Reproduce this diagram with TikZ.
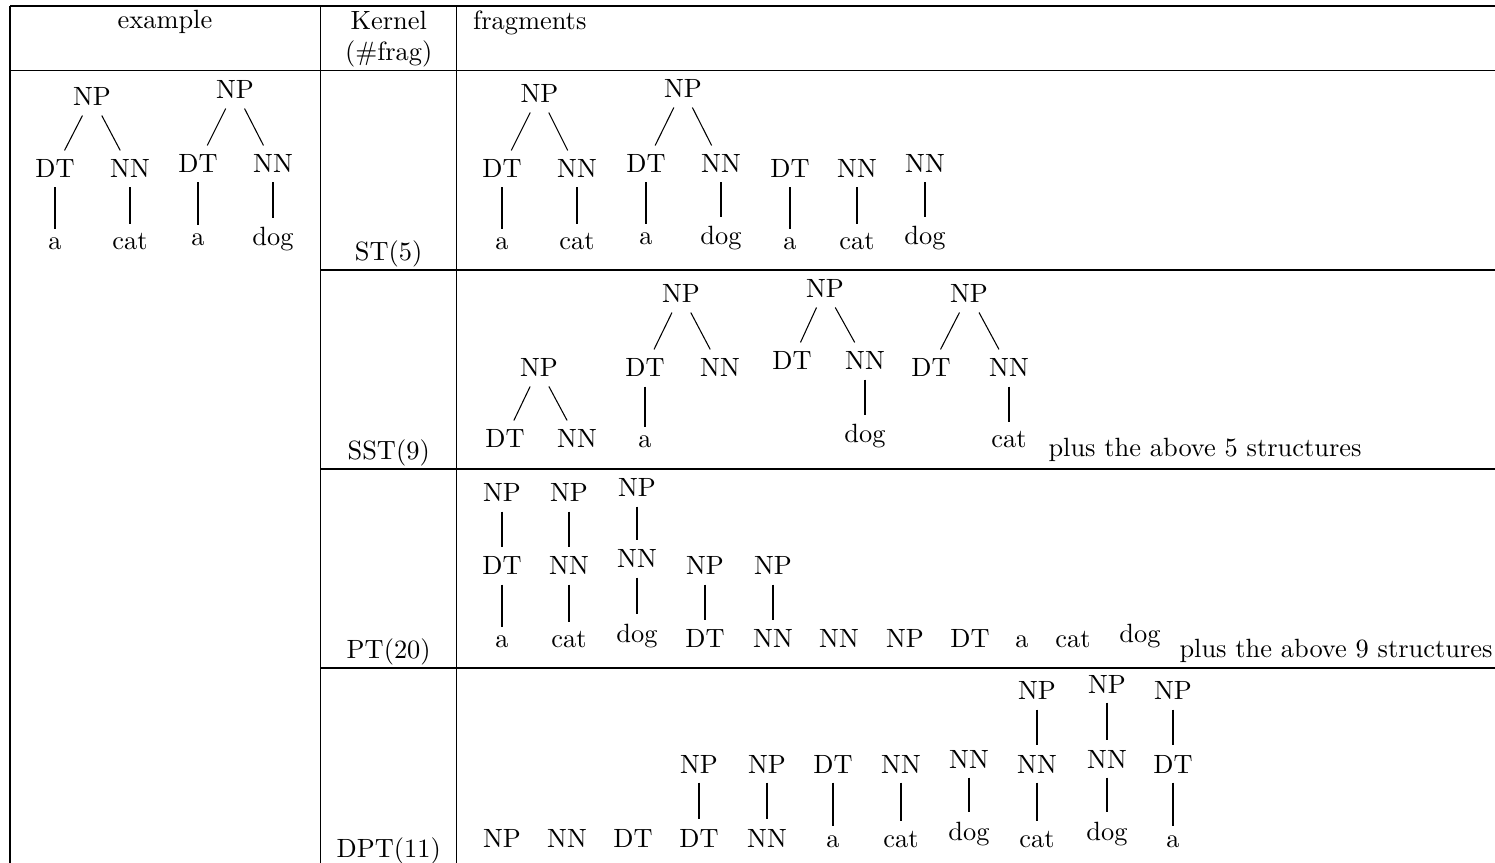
\documentclass[tikz,border=0pt]{standalone}
\begin{document}
\begin{tikzpicture}[x=0.3788pt,y=-0.3788pt,
  t/.style={inner xsep=0.5pt,inner ysep=3.4pt,anchor=base},
  lab/.style={inner sep=0pt,anchor=base},
  br/.style={line width=0.4pt},
  rule/.style={line width=0.45pt}]
\useasboundingbox (0,0) rectangle (1495,863);
% table rules
\draw[rule] (10,6) -- (1495,6);
\draw[rule] (10,70.5) -- (1495,70.5);
\draw[rule] (320.7,270) -- (1495,270);
\draw[rule] (320.7,469) -- (1495,469);
\draw[rule] (320.7,668) -- (1495,668);
\draw[rule] (10,6) -- (10,863);
\draw[rule] (320.7,6) -- (320.7,863);
\draw[rule] (456.7,6) -- (456.7,863);
% headers
\node[lab] (hex) at (165,29) {example};
\node[lab] (hk1) at (388.7,30) {Kernel};
\node[lab] (hk2) at (388.7,61) {(\#frag)};
\node[lab,anchor=base west] (hfr) at (472.7,30) {fragments};
% row labels
\node[lab] (rst) at (388.7,260.8) {ST(5)};
\node[lab] (rsst) at (388.7,459.8) {SST(9)};
\node[lab] (rpt) at (388.7,658.8) {PT(20)};
\node[lab] (rdpt) at (388.7,857) {DPT(11)};
% example trees
\node[t] (e1np) at (92,106) {NP};
\node[t] (e1dt) at (55,178) {DT};
\node[t] (e1nn) at (130,178) {NN};
\node[t] (e1a) at (55,250) {a};
\node[t] (e1cat) at (130,250) {cat};
\draw[br] (e1np) -- (e1dt); \draw[br] (e1np) -- (e1nn);
\draw[br] (e1dt) -- (e1a); \draw[br] (e1nn) -- (e1cat);
\node[t] (e2np) at (235,99) {NP};
\node[t] (e2dt) at (198,173) {DT};
\node[t] (e2nn) at (273,173) {NN};
\node[t] (e2a) at (198,246) {a};
\node[t] (e2dog) at (273,246) {dog};
\draw[br] (e2np) -- (e2dt); \draw[br] (e2np) -- (e2nn);
\draw[br] (e2dt) -- (e2a); \draw[br] (e2nn) -- (e2dog);
% ST fragments
\node[t] (s1np) at (539.5,103) {NP};
\node[t] (s1dt) at (502,178) {DT};
\node[t] (s1nn) at (577,178) {NN};
\node[t] (s1a) at (502,250) {a};
\node[t] (s1cat) at (577,250) {cat};
\draw[br] (s1np) -- (s1dt); \draw[br] (s1np) -- (s1nn);
\draw[br] (s1dt) -- (s1a); \draw[br] (s1nn) -- (s1cat);
\node[t] (s2np) at (683,98) {NP};
\node[t] (s2dt) at (646,173) {DT};
\node[t] (s2nn) at (721,173) {NN};
\node[t] (s2a) at (646,245) {a};
\node[t] (s2dog) at (721,245) {dog};
\draw[br] (s2np) -- (s2dt); \draw[br] (s2np) -- (s2nn);
\draw[br] (s2dt) -- (s2a); \draw[br] (s2nn) -- (s2dog);
\node[t] (s3dt) at (790,178) {DT};
\node[t] (s3a) at (790,250) {a};
\draw[br] (s3dt) -- (s3a);
\node[t] (s4nn) at (857,178) {NN};
\node[t] (s4cat) at (857,250) {cat};
\draw[br] (s4nn) -- (s4cat);
\node[t] (s5nn) at (925,173) {NN};
\node[t] (s5dog) at (925,245) {dog};
\draw[br] (s5nn) -- (s5dog);
% SST fragments
\node[t] (t1np) at (539,377) {NP};
\node[t] (t1dt) at (505,448) {DT};
\node[t] (t1nn) at (577,448) {NN};
\draw[br] (t1np) -- (t1dt); \draw[br] (t1np) -- (t1nn);
\node[t] (t2np) at (681,303) {NP};
\node[t] (t2dt) at (645,377) {DT};
\node[t] (t2nn) at (720,377) {NN};
\node[t] (t2a) at (645,448) {a};
\draw[br] (t2np) -- (t2dt); \draw[br] (t2np) -- (t2nn);
\draw[br] (t2dt) -- (t2a);
\node[t] (t3np) at (825,298) {NP};
\node[t] (t3dt) at (792,370) {DT};
\node[t] (t3nn) at (865,370) {NN};
\node[t] (t3dog) at (865,443) {dog};
\draw[br] (t3np) -- (t3dt); \draw[br] (t3np) -- (t3nn);
\draw[br] (t3nn) -- (t3dog);
\node[t] (t4np) at (969,303) {NP};
\node[t] (t4dt) at (931,377) {DT};
\node[t] (t4nn) at (1009,377) {NN};
\node[t] (t4cat) at (1009,448) {cat};
\draw[br] (t4np) -- (t4dt); \draw[br] (t4np) -- (t4nn);
\draw[br] (t4nn) -- (t4cat);
\node[lab,anchor=base west] (tplus) at (1048,457) {plus the above 5 structures};
% PT fragments
\node[t] (p1np) at (502,502) {NP};
\node[t] (p1dt) at (502,575) {DT};
\node[t] (p1a) at (502,648) {a};
\draw[br] (p1np) -- (p1dt); \draw[br] (p1dt) -- (p1a);
\node[t] (p2np) at (569,502) {NP};
\node[t] (p2nn) at (569,575) {NN};
\node[t] (p2cat) at (569,648) {cat};
\draw[br] (p2np) -- (p2nn); \draw[br] (p2nn) -- (p2cat);
\node[t] (p3np) at (637,497) {NP};
\node[t] (p3nn) at (637,568) {NN};
\node[t] (p3dog) at (637,642) {dog};
\draw[br] (p3np) -- (p3nn); \draw[br] (p3nn) -- (p3dog);
\node[t] (p4np) at (705,575) {NP};
\node[t] (p4dt) at (705,648) {DT};
\draw[br] (p4np) -- (p4dt);
\node[t] (p5np) at (773,575) {NP};
\node[t] (p5nn) at (773,648) {NN};
\draw[br] (p5np) -- (p5nn);
\node[t] (p6) at (839,648) {NN};
\node[t] (p7) at (905,648) {NP};
\node[t] (p8) at (970,648) {DT};
\node[t] (p9) at (1022,648) {a};
\node[t] (p10) at (1073,648) {cat};
\node[t] (p11) at (1140,642) {dog};
\node[lab,anchor=base west] (pplus) at (1179,658) {plus the above 9 structures};
% DPT fragments
\node[t] (q1) at (502,847) {NP};
\node[t] (q2) at (567,847) {NN};
\node[t] (q3) at (633,847) {DT};
\node[t] (d1np) at (699,773) {NP};
\node[t] (d1dt) at (699,847) {DT};
\draw[br] (d1np) -- (d1dt);
\node[t] (d2np) at (767,773) {NP};
\node[t] (d2nn) at (767,847) {NN};
\draw[br] (d2np) -- (d2nn);
\node[t] (d3dt) at (833,773) {DT};
\node[t] (d3a) at (833,847) {a};
\draw[br] (d3dt) -- (d3a);
\node[t] (d4nn) at (901,773) {NN};
\node[t] (d4cat) at (901,847) {cat};
\draw[br] (d4nn) -- (d4cat);
\node[t] (d5nn) at (969,768) {NN};
\node[t] (d5dog) at (969,840) {dog};
\draw[br] (d5nn) -- (d5dog);
\node[t] (d6np) at (1037,700) {NP};
\node[t] (d6nn) at (1037,773) {NN};
\node[t] (d6cat) at (1037,847) {cat};
\draw[br] (d6np) -- (d6nn); \draw[br] (d6nn) -- (d6cat);
\node[t] (d7np) at (1107,693) {NP};
\node[t] (d7nn) at (1107,768) {NN};
\node[t] (d7dog) at (1107,840) {dog};
\draw[br] (d7np) -- (d7nn); \draw[br] (d7nn) -- (d7dog);
\node[t] (d8np) at (1173,700) {NP};
\node[t] (d8dt) at (1173,773) {DT};
\node[t] (d8a) at (1173,847) {a};
\draw[br] (d8np) -- (d8dt); \draw[br] (d8dt) -- (d8a);
\end{tikzpicture}
\end{document}
